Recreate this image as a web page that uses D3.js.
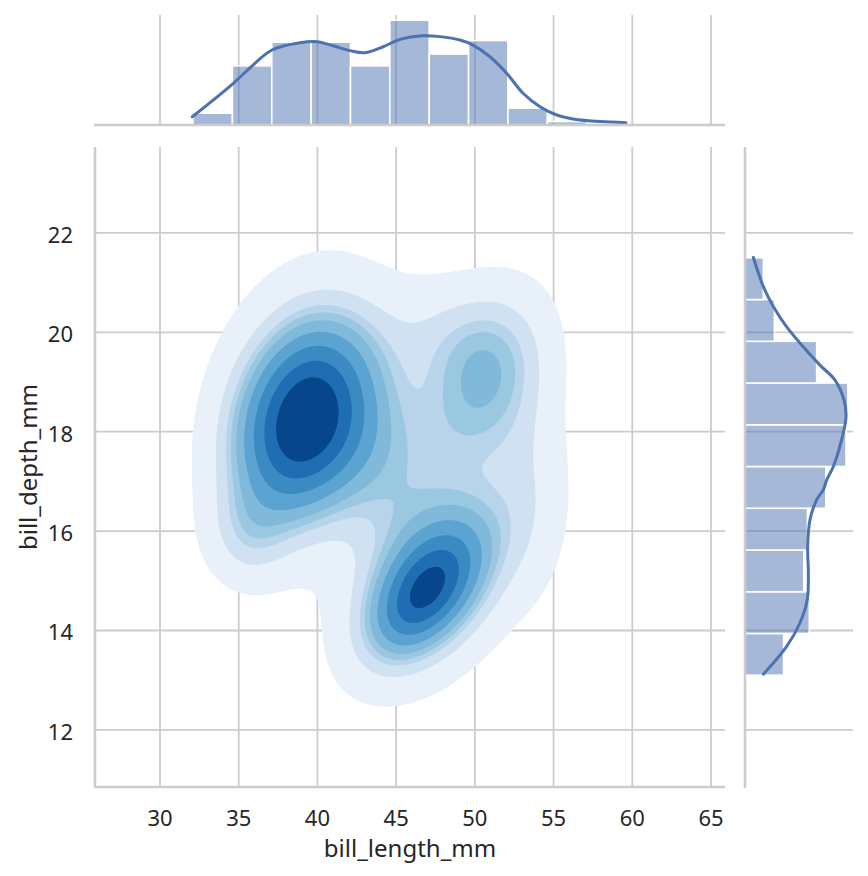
<!DOCTYPE html>
<html>
<head>
  <meta charset="utf-8"/>
  <title>Joint KDE</title>
  <script src="https://d3js.org/d3.v7.min.js"></script>
  <style>
    body { margin: 0; background: #fff; }
    text { font-family: "Noto Sans", "Open Sans", sans-serif; fill: #262626; }
  </style>
</head>
<body>
<div id="chart"></div>
<script>
// ---- data ----
// top marginal: histogram of bill_length_mm (bins of 2.5 starting at 32.1)
var lengthBinStart = 32.1, lengthBinWidth = 2.5;
var lengthCounts = [7, 35, 49, 49, 35, 62, 42, 50, 10, 2, 1];
// marginal kde of bill_length_mm (scaled to counts)
var lengthKdeX = [32.05, 34.66, 35.91, 37.11, 38.89, 39.95, 40.99, 42.07, 43.02, 44.17, 45.25, 46.62, 47.79, 49.06, 49.88, 50.96, 52.02, 53.06, 54.14, 55.2, 56.23, 57.95, 59.6];
var lengthKdeY = [4.9, 24.7, 35.5, 44.4, 48.7, 49.3, 46.9, 44.0, 42.8, 46.3, 50.7, 52.8, 52.3, 50.3, 47.3, 40.4, 30.6, 18.8, 10.8, 5.9, 3.6, 2.0, 1.4];

// right marginal: histogram of bill_depth_mm (10 bins from 13.1 to 21.5)
var depthBinStart = 13.1, depthBinWidth = 0.84;
var depthCounts = [21, 35, 32, 34, 44, 55, 56, 39, 16, 10];
var depthKdeY = [13.12, 13.68, 14.15, 14.62, 15.15, 15.69, 16.23, 16.63, 16.83, 17.03, 17.30, 17.84, 18.30, 18.64, 19.04, 19.34, 19.71, 20.11, 20.52, 20.92, 21.51];
var depthKdeX = [10.0, 22.7, 29.9, 33.9, 34.5, 34.1, 35.4, 39.0, 42.6, 44.5, 48.1, 52.6, 55.0, 53.9, 49.0, 40.8, 31.7, 22.7, 15.4, 10.0, 4.5];

// joint density: clusters estimated from the filled contours
// [centre length, centre depth, spread length, spread depth, correlation, weight]
var clusters = [
  [38.3, 18.05, 2.8, 1.3, 0.2, 0.20],
  [40.1, 18.4, 2.8, 1.3, 0.2, 0.20],
  [39.5, 19.0, 4.2, 2.0, 0.1, 0.07],
  [46.8, 14.75, 2.2, 0.8, 0.5, 0.085],
  [47.5, 15.1, 3.5, 1.3, 0.4, 0.20],
  [50.5, 18.95, 2.7, 1.2, 0.3, 0.115],
  [44.5, 17.3, 2.5, 1.2, 0.0, 0.06],
  [48.0, 20.0, 3.0, 0.8, 0.0, 0.03],
  [35.5, 15.9, 1.8, 0.7, 0.0, 0.02],
  [53.5, 17.0, 1.8, 1.5, 0.0, 0.03]
];
var levelProps = [0.05, 0.1556, 0.2611, 0.3667, 0.4722, 0.5778, 0.6833, 0.7889, 0.8944, 1.0];
var bandColors = ["#e8f1fa", "#d0e1f2", "#b7d4ea", "#9ac8e1", "#80b9da", "#5ba3d0", "#3b8bc2", "#1f6eb3", "#08468b"];

var xTicks = [30, 35, 40, 45, 50, 55, 60, 65];
var yTicks = [12, 14, 16, 18, 20, 22];

// ---- layout ----
var width = 868, height = 876;
var histColor = "#4c72b0", gridColor = "#cccccc";

var svg = d3.select("#chart").append("svg")
    .attr("width", width).attr("height", height);

var x = d3.scaleLinear().domain([25.87, 65.89]).range([95, 725]);
var y = d3.scaleLinear().domain([10.85, 23.73]).range([787, 147]);

// ---- joint grid ----
var gj = svg.append("g");
xTicks.forEach(function(t) {
  gj.append("line").attr("x1", x(t)).attr("x2", x(t)).attr("y1", 147).attr("y2", 787)
    .attr("stroke", gridColor).attr("stroke-width", 1.8);
});
yTicks.forEach(function(t) {
  gj.append("line").attr("x1", 95).attr("x2", 725).attr("y1", y(t)).attr("y2", y(t))
    .attr("stroke", gridColor).attr("stroke-width", 1.8);
});

// ---- density grid ----
var nx = 260, ny = 220;
var x0 = x.domain()[0], x1 = x.domain()[1], y0 = y.domain()[0], y1 = y.domain()[1];
var dx = (x1 - x0) / (nx - 1), dy = (y1 - y0) / (ny - 1);
var values = new Float64Array(nx * ny);
for (var j = 0; j < ny; j++) {
  var py = y0 + j * dy;
  for (var i = 0; i < nx; i++) {
    var px = x0 + i * dx, s = 0;
    clusters.forEach(function(c) {
      var u = (px - c[0]) / c[2], v = (py - c[1]) / c[3], r = c[4];
      var q = (u * u - 2 * r * u * v + v * v) / (1 - r * r);
      s += c[5] * Math.exp(-0.5 * q) / (2 * Math.PI * c[2] * c[3] * Math.sqrt(1 - r * r));
    });
    values[i + j * nx] = s;
  }
}

// iso-proportion levels as seaborn does
var sorted = Array.from(values).sort(function(a, b) { return b - a; });
var total = d3.sum(sorted), cum = 0, cumArr = new Float64Array(sorted.length);
for (var k = 0; k < sorted.length; k++) { cum += sorted[k]; cumArr[k] = cum / total; }
var levels = levelProps.map(function(p) {
  var idx = d3.bisectLeft(cumArr, 1 - p);
  return sorted[Math.min(idx, sorted.length - 1)];
});

var proj = d3.geoTransform({
  point: function(cx, cy) {
    this.stream.point(x(x0 + (cx - 0.5) * dx), y(y0 + (cy - 0.5) * dy));
  }
});
var path = d3.geoPath(proj);
var contours = d3.contours().size([nx, ny]).thresholds(levels.slice(0, 9))(values);
svg.append("g").selectAll("path")
  .data(contours)
  .join("path")
    .attr("d", path)
    .attr("fill", function(d, i) { return bandColors[i]; });

// joint spines
svg.append("line").attr("x1", 95).attr("x2", 95).attr("y1", 147).attr("y2", 788)
  .attr("stroke", gridColor).attr("stroke-width", 2.5);
svg.append("line").attr("x1", 94).attr("x2", 725).attr("y1", 787).attr("y2", 787)
  .attr("stroke", gridColor).attr("stroke-width", 2.5);

// tick labels
svg.append("g").selectAll("text").data(xTicks).join("text")
  .attr("x", function(d) { return x(d); }).attr("y", 826)
  .attr("text-anchor", "middle").attr("font-size", 22)
  .text(function(d) { return d; });
svg.append("g").selectAll("text").data(yTicks).join("text")
  .attr("x", 73).attr("y", function(d) { return y(d) + 10; })
  .attr("text-anchor", "end").attr("font-size", 22)
  .text(function(d) { return d; });

svg.append("text").attr("x", 410).attr("y", 857).attr("text-anchor", "middle")
  .attr("font-size", 24).text("bill_length_mm");
svg.append("text").attr("transform", "translate(37,467) rotate(-90)")
  .attr("text-anchor", "middle").attr("font-size", 24).text("bill_depth_mm");

// ---- top marginal ----
var topMax = d3.max(lengthCounts.concat(lengthKdeY)) * 1.05;
var yTop = d3.scaleLinear().domain([0, topMax]).range([125, 15]);
var gt = svg.append("g");
xTicks.forEach(function(t) {
  gt.append("line").attr("x1", x(t)).attr("x2", x(t)).attr("y1", 15).attr("y2", 125)
    .attr("stroke", gridColor).attr("stroke-width", 1.8);
});
gt.selectAll("rect").data(lengthCounts).join("rect")
  .attr("x", function(d, i) { return x(lengthBinStart + i * lengthBinWidth); })
  .attr("width", x(lengthBinWidth) - x(0))
  .attr("y", function(d) { return yTop(d); })
  .attr("height", function(d) { return yTop(0) - yTop(d); })
  .attr("fill", histColor).attr("fill-opacity", 0.5)
  .attr("stroke", "#fff").attr("stroke-width", 1.6);
gt.append("path")
  .datum(d3.zip(lengthKdeX, lengthKdeY))
  .attr("d", d3.line().curve(d3.curveCatmullRom)
    .x(function(d) { return x(d[0]); }).y(function(d) { return yTop(d[1]); }))
  .attr("fill", "none").attr("stroke", histColor).attr("stroke-width", 3)
  .attr("stroke-linecap", "round");
gt.append("line").attr("x1", 94).attr("x2", 725).attr("y1", 125).attr("y2", 125)
  .attr("stroke", gridColor).attr("stroke-width", 2.5);

// ---- right marginal ----
var rightMax = d3.max(depthCounts.concat(depthKdeX)) * 1.05;
var xRight = d3.scaleLinear().domain([0, rightMax]).range([745, 853]);
var gr = svg.append("g");
yTicks.forEach(function(t) {
  gr.append("line").attr("x1", 745).attr("x2", 853).attr("y1", y(t)).attr("y2", y(t))
    .attr("stroke", gridColor).attr("stroke-width", 1.8);
});
gr.selectAll("rect").data(depthCounts).join("rect")
  .attr("x", xRight(0))
  .attr("width", function(d) { return xRight(d) - xRight(0); })
  .attr("y", function(d, i) { return y(depthBinStart + (i + 1) * depthBinWidth); })
  .attr("height", y(0) - y(depthBinWidth))
  .attr("fill", histColor).attr("fill-opacity", 0.5)
  .attr("stroke", "#fff").attr("stroke-width", 1.6);
gr.append("path")
  .datum(d3.zip(depthKdeX, depthKdeY))
  .attr("d", d3.line().curve(d3.curveCatmullRom)
    .x(function(d) { return xRight(d[0]); }).y(function(d) { return y(d[1]); }))
  .attr("fill", "none").attr("stroke", histColor).attr("stroke-width", 3)
  .attr("stroke-linecap", "round");
gr.append("line").attr("x1", 745).attr("x2", 745).attr("y1", 147).attr("y2", 788)
  .attr("stroke", gridColor).attr("stroke-width", 2.5);
</script>
</body>
</html>
